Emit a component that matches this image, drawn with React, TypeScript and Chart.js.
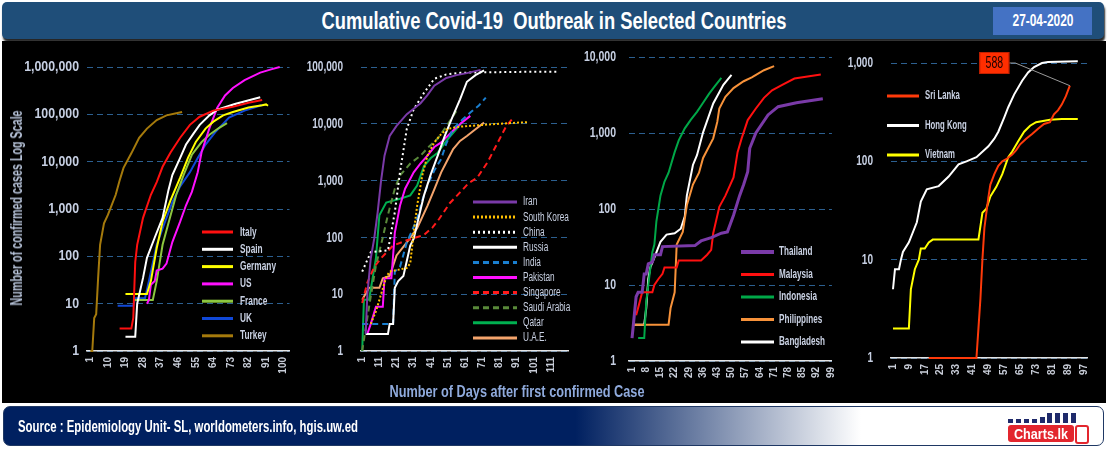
import React, { useEffect, useRef } from "react";
import { Chart, registerables } from "chart.js";
Chart.register(...registerables);

const FONT = "'Liberation Sans', Arial, 'DejaVu Sans', sans-serif";
const TICK_COLOR = "#c6cfe2";
const LEGEND_COLOR = "#c9d1e3";
const GRID_COLOR = "#2c5f8f";

// ---------- Tick labels ----------
const p1XTicks = [1, 10, 19, 28, 37, 46, 55, 64, 73, 82, 91, 100];
const p1YTicks = [1, 10, 100, 1000, 10000, 100000, 1000000];
const p2XTicks = [1, 11, 21, 31, 41, 51, 61, 71, 81, 91, 101, 111];
const p2YTicks = [1, 10, 100, 1000, 10000, 100000];
const p3XTicks = [1, 8, 15, 22, 29, 36, 43, 50, 57, 64, 71, 78, 85, 92, 99];
const p3YTicks = [1, 10, 100, 1000, 10000];
const p4XTicks = [1, 9, 17, 25, 33, 41, 49, 57, 65, 73, 81, 89, 97];
const p4YTicks = [1, 10, 100, 1000];

// ---------- Panel 1 series: [day, cumulative cases] ----------
const italy = [[16, 3], [22, 3], [23, 5], [24, 76], [25, 175], [28, 650], [32, 2000], [35, 3700], [38, 7800], [42, 15500], [47, 32000], [52, 60000], [57, 89000], [64, 120000], [74, 145000], [82, 175000], [89, 200000]];
const spain = [[19, 2], [24, 2], [25, 10], [28, 35], [30, 93], [34, 250], [38, 650], [41, 2500], [43, 5200], [47, 12000], [50, 23000], [54, 40000], [57, 60000], [62, 95000], [66, 125000], [75, 165000], [88, 230000]];
const germany = [[19, 16], [30, 16], [32, 30], [35, 150], [38, 540], [42, 1500], [47, 4600], [51, 12000], [55, 26000], [60, 50000], [64, 70000], [69, 95000], [74, 112000], [82, 140000], [89, 155000], [91, 162000], [92, 152000]];
const us = [[30, 10], [31, 12], [32, 25], [34, 30], [35, 50], [38, 55], [40, 70], [43, 200], [47, 540], [50, 1200], [53, 2300], [56, 6000], [58, 16000], [62, 51000], [66, 138000], [70, 250000], [74, 360000], [80, 530000], [88, 760000], [94, 900000], [98, 1000000]];
const france = [[23, 12], [33, 12], [35, 30], [38, 175], [41, 500], [45, 2000], [49, 5500], [53, 14000], [58, 26000], [62, 37000], [67, 52000], [71, 65000]];
const uk = [[15, 9], [23, 9], [24, 13], [29, 13], [31, 30], [35, 175], [39, 500], [43, 1400], [47, 3000], [52, 6000], [56, 12000], [60, 23000], [65, 42000], [72, 85000], [80, 120000], [89, 158000]];
const turkey = [[1, 1], [2, 1], [3, 5], [4, 6], [5, 35], [6, 175], [8, 500], [10, 750], [14, 2000], [16, 4000], [18, 7400], [22, 15000], [26, 32000], [30, 50000], [35, 76000], [40, 95000], [45, 105000], [48, 112000]];

// ---------- Panel 2 series ----------
const iran = [[3, 2], [4, 10], [6, 43], [8, 95], [10, 277], [12, 1000], [14, 2750], [17, 6100], [21, 9200], [27, 14800], [35, 23000], [39, 32000], [43, 47000], [50, 64000], [56, 72000], [62, 78000], [70, 89000]];
const southKorea = [[6, 3], [9, 5], [12, 10], [15, 20], [17, 25], [27, 29], [29, 35], [31, 120], [33, 360], [36, 1230], [39, 2750], [43, 4700], [47, 6600], [51, 8200], [58, 8900], [74, 9700], [97, 10700]];
const china = [[1, 25], [6, 55], [16, 59], [20, 277], [23, 1400], [27, 8200], [31, 18000], [37, 35000], [43, 62000], [50, 74000], [58, 79000], [70, 80500], [100, 82500], [115, 82800]];
const russia = [[3, 2], [16, 2], [17, 3], [19, 3], [20, 13], [22, 17], [25, 21], [29, 72], [31, 95], [37, 550], [41, 1300], [45, 2750], [49, 6000], [53, 12000], [58, 27000], [62, 55000], [67, 72000], [72, 87000]];
const india = [[1, 3], [19, 3], [20, 25], [23, 30], [27, 82], [30, 130], [33, 215], [36, 450], [39, 820], [43, 1500], [47, 2400], [50, 4500], [54, 8200], [59, 11500], [64, 15800], [69, 21000], [73, 29000]];
const pakistan = [[4, 2], [6, 3], [9, 6], [13, 6], [14, 19], [18, 19], [20, 120], [23, 360], [26, 720], [31, 1400], [35, 2000], [39, 2750], [43, 3900], [47, 4700], [54, 7600], [59, 10500], [64, 13800]];
const singapore = [[1, 7], [4, 16], [8, 30], [12, 43], [19, 72], [27, 89], [37, 110], [42, 150], [46, 215], [52, 400], [58, 620], [63, 900], [68, 1120], [74, 2100], [80, 4700], [85, 9200], [89, 12700]];
const saudiArabia = [[1, 1], [5, 6], [9, 32], [13, 100], [16, 250], [20, 720], [23, 1230], [29, 2000], [35, 2750], [40, 4000], [45, 5500], [51, 10000], [57, 19000]];
const qatar = [[1, 1], [2, 8], [5, 8], [9, 43], [11, 245], [15, 410], [23, 480], [29, 550], [33, 820], [37, 1800], [41, 2500], [45, 3100], [50, 5000], [55, 7500], [59, 10500]];
const uae = [[1, 8], [5, 13], [11, 13], [13, 19], [17, 21], [21, 48], [27, 82], [33, 145], [39, 360], [43, 700], [47, 1400], [51, 2400], [54, 3600], [58, 5000], [62, 6100], [67, 8000], [72, 10500]];

// ---------- Panel 3 series ----------
const thailand = [[1, 2], [3, 7], [4, 8], [6, 8], [7, 14], [8, 14], [9, 19], [11, 20], [12, 25], [15, 25], [16, 32], [32, 33], [35, 38], [40, 42], [45, 48], [48, 50], [51, 83], [54, 150], [56, 210], [58, 310], [59, 630], [62, 1000], [68, 1730], [73, 2220], [82, 2500], [95, 2820]];
const malaysia = [[3, 4], [4, 5], [6, 8], [11, 8], [12, 10], [14, 12], [16, 14], [17, 17], [23, 17], [24, 21], [35, 21], [38, 25], [40, 29], [41, 48], [44, 107], [47, 150], [51, 260], [53, 560], [55, 850], [58, 1480], [62, 2100], [66, 2900], [70, 3650], [75, 4300], [81, 5200], [94, 5900]];
const indonesia = [[4, 2], [7, 2], [8, 6], [9, 10], [11, 27], [12, 34], [13, 69], [15, 150], [17, 230], [19, 300], [22, 560], [24, 800], [27, 1150], [30, 1500], [33, 1900], [36, 2500], [39, 3300], [42, 4200], [45, 5300]];
const philippines = [[1, 3], [19, 3], [20, 5], [22, 8], [23, 34], [26, 50], [28, 112], [31, 210], [34, 300], [36, 470], [41, 850], [43, 1400], [44, 2100], [47, 3000], [51, 3900], [56, 4800], [60, 5400], [66, 6700], [71, 7600]];
const bangladesh = [[1, 3], [7, 3], [8, 5], [9, 12], [10, 17], [12, 23], [15, 37], [18, 46], [22, 48], [25, 55], [27, 80], [28, 150], [31, 380], [33, 510], [36, 1020], [41, 2450], [46, 4300], [50, 5800]];

// ---------- Panel 4 series ----------
const sriLanka = [[19, 1], [43, 1], [44, 2], [45, 4], [46, 10], [47, 21], [49, 43], [50, 58], [52, 74], [54, 90], [56, 100], [58, 105], [61, 117], [63, 130], [65, 149], [68, 170], [71, 190], [74, 215], [77, 240], [80, 250], [82, 300], [84, 330], [86, 380], [88, 460], [90, 588]];
const hongKong = [[1, 5], [2, 8], [4, 8], [5, 10], [6, 12], [9, 15], [13, 24], [15, 39], [18, 52], [24, 56], [29, 70], [34, 93], [38, 100], [43, 110], [49, 142], [52, 170], [54, 200], [57, 280], [59, 355], [62, 480], [66, 660], [69, 800], [72, 910], [76, 1000], [79, 1025], [94, 1040]];
const vietnam = [[1, 2], [9, 2], [10, 5], [12, 8], [14, 10], [15, 13], [17, 13], [19, 15], [21, 16], [44, 16], [46, 30], [48, 33], [50, 44], [53, 55], [56, 74], [59, 110], [61, 126], [64, 160], [67, 200], [70, 230], [73, 250], [80, 265], [86, 270], [94, 270]];

// callout anchor (data units) for the Sri Lanka label
const calloutDay = 52;
const calloutCases = 1000;

type S = { label: string; pts: number[][]; color: string; w: number; dash?: number[] };

const panel1: S[] = [
  { label: "Italy", pts: italy, color: "#ff1010", w: 2 },
  { label: "Spain", pts: spain, color: "#ffffff", w: 2 },
  { label: "Germany", pts: germany, color: "#ffff00", w: 2 },
  { label: "US", pts: us, color: "#ff10ff", w: 2 },
  { label: "France", pts: france, color: "#8cc63f", w: 2 },
  { label: "UK", pts: uk, color: "#1048d8", w: 2 },
  { label: "Turkey", pts: turkey, color: "#a57a0c", w: 2 },
];
const panel2: S[] = [
  { label: "Iran", pts: iran, color: "#7a3aa8", w: 2 },
  { label: "South Korea", pts: southKorea, color: "#ffc000", w: 2, dash: [2, 2] },
  { label: "China", pts: china, color: "#ffffff", w: 2, dash: [2, 3] },
  { label: "Russia", pts: russia, color: "#ffffff", w: 2 },
  { label: "India", pts: india, color: "#1a7fd0", w: 2, dash: [6, 4] },
  { label: "Pakistan", pts: pakistan, color: "#ff10ff", w: 2 },
  { label: "Singapore", pts: singapore, color: "#ff1a1a", w: 2, dash: [6, 4] },
  { label: "Saudi Arabia", pts: saudiArabia, color: "#5a8a3a", w: 2, dash: [6, 4] },
  { label: "Qatar", pts: qatar, color: "#00b050", w: 2 },
  { label: "U.A.E.", pts: uae, color: "#f4a46c", w: 2 },
];
const panel3: S[] = [
  { label: "Thailand", pts: thailand, color: "#7a3aa8", w: 3 },
  { label: "Malaysia", pts: malaysia, color: "#ff1010", w: 2 },
  { label: "Indonesia", pts: indonesia, color: "#00a848", w: 2 },
  { label: "Philippines", pts: philippines, color: "#f7923a", w: 2 },
  { label: "Bangladesh", pts: bangladesh, color: "#ffffff", w: 2 },
];
const panel4: S[] = [
  { label: "Sri Lanka", pts: sriLanka, color: "#ff3a0a", w: 2 },
  { label: "Hong Kong", pts: hongKong, color: "#ffffff", w: 2 },
  { label: "Vietnam", pts: vietnam, color: "#ffff00", w: 2 },
];

function narrowText(ctx: any, text: string, x: number, y: number, sx: number, align: string) {
  ctx.save();
  ctx.translate(x, y);
  ctx.scale(sx, 1);
  ctx.textAlign = align;
  ctx.fillText(text, 0, 0);
  ctx.restore();
}

const fmt = (v: number) => Number(v).toLocaleString("en-US");

const sideLegend = {
  id: "sideLegend",
  afterDatasetsDraw(chart: any, _a: any, o: any) {
    if (!o || o.x == null) return;
    const ctx = chart.ctx;
    ctx.save();
    chart.data.datasets.forEach((ds: any, i: number) => {
      const y = o.y0 + i * o.dy;
      ctx.beginPath();
      ctx.setLineDash(ds.borderDash || []);
      ctx.strokeStyle = ds.borderColor;
      ctx.lineWidth = ds.borderWidth + 1;
      ctx.moveTo(o.x, y);
      ctx.lineTo(o.x + o.len, y);
      ctx.stroke();
      ctx.setLineDash([]);
      ctx.fillStyle = LEGEND_COLOR;
      ctx.font = `${o.weight} ${o.size}px ${FONT}`;
      ctx.textBaseline = "middle";
      narrowText(ctx, ds.label, o.textX, y, o.sx, "left");
    });
    ctx.restore();
  },
};

const narrowY = {
  id: "narrowY",
  afterDraw(chart: any, _a: any, o: any) {
    if (!o || o.size == null) return;
    const s = chart.scales.y;
    const ctx = chart.ctx;
    ctx.save();
    ctx.fillStyle = TICK_COLOR;
    ctx.font = `bold ${o.size}px ${FONT}`;
    ctx.textBaseline = "middle";
    s.ticks.forEach((t: any) => {
      const y = s.getPixelForValue(t.value);
      narrowText(ctx, fmt(t.value), s.right - o.pad, y, o.sx, "right");
    });
    ctx.restore();
  },
};

const callout = {
  id: "callout",
  afterDatasetsDraw(chart: any, _a: any, o: any) {
    if (!o || o.boxX == null) return;
    const ctx = chart.ctx;
    const xs = chart.scales.x, ys = chart.scales.y;
    const pts = chart.data.datasets[o.dataset].data;
    const last = pts[pts.length - 1];
    const bx = xs.getPixelForValue(o.boxX), by = ys.getPixelForValue(o.boxY);
    const tx = xs.getPixelForValue(last.x), ty = ys.getPixelForValue(last.y);
    const w = 30, h = 22;
    ctx.save();
    ctx.strokeStyle = "#9a9a9a";
    ctx.lineWidth = 1;
    ctx.beginPath();
    ctx.moveTo(bx + w / 2, by);
    ctx.lineTo(bx + w / 2 + 6, by);
    ctx.lineTo(tx, ty);
    ctx.stroke();
    ctx.fillStyle = "#ff2e00";
    ctx.fillRect(bx - w / 2, by - h / 2, w, h);
    ctx.strokeStyle = "#c02000";
    ctx.strokeRect(bx - w / 2 + 0.5, by - h / 2 + 0.5, w - 1, h - 1);
    ctx.fillStyle = "#1a0000";
    ctx.font = `16px ${FONT}`;
    ctx.textBaseline = "middle";
    narrowText(ctx, String(last.y), bx, by + 1, 0.66, "center");
    ctx.restore();
  },
};

type P = {
  series: S[]; xTicks: number[]; yTicks: number[];
  left: number; top: number; w: number; h: number;
  yAxisW: number; padTop: number; xMin: number; xMax: number; yMax: number;
  yLab: any; legend: any; callout?: any;
};

const PANELS: P[] = [
  { series: panel1, xTicks: p1XTicks, yTicks: p1YTicks, left: 0, top: 45, w: 302, h: 346, yAxisW: 87, padTop: 22,
    xMin: -0.7, xMax: 103, yMax: 1000000, yLab: { size: 14, sx: 0.88, pad: 8 },
    legend: { x: 202, len: 31, textX: 240, y0: 187, dy: 17.3, size: 13, weight: "bold", sx: 0.64 } },
  { series: panel2, xTicks: p2XTicks, yTicks: p2YTicks, left: 295, top: 45, w: 285, h: 346, yAxisW: 66, padTop: 22,
    xMin: 0.3, xMax: 120.9, yMax: 100000, yLab: { size: 15, sx: 0.67, pad: 18 },
    legend: { x: 178, len: 44, textX: 228, y0: 157, dy: 15.1, size: 12.5, weight: "normal", sx: 0.66 } },
  { series: panel3, xTicks: p3XTicks, yTicks: p3YTicks, left: 570, top: 45, w: 279, h: 356, yAxisW: 59, padTop: 12,
    xMin: -0.5, xMax: 99.5, yMax: 10000, yLab: { size: 15, sx: 0.7, pad: 13 },
    legend: { x: 171, len: 33, textX: 209, y0: 207, dy: 22.5, size: 12.5, weight: "bold", sx: 0.65 } },
  { series: panel4, xTicks: p4XTicks, yTicks: p4YTicks, left: 845, top: 45, w: 257, h: 353, yAxisW: 46, padTop: 18,
    xMin: 0, xMax: 99, yMax: 1000, yLab: { size: 15, sx: 0.67, pad: 18 },
    legend: { x: 42, len: 32, textX: 80, y0: 51, dy: 29.5, size: 12.5, weight: "bold", sx: 0.62 },
    callout: { dataset: 0, boxX: calloutDay, boxY: calloutCases } },
];

function makeConfig(p: P): any {
  return {
    type: "line",
    data: {
      datasets: p.series.map((s) => ({
        label: s.label,
        data: s.pts.map(([x, y]) => ({ x, y })),
        borderColor: s.color,
        backgroundColor: s.color,
        borderWidth: s.w,
        borderDash: s.dash || [],
        pointRadius: 0,
        tension: 0,
        fill: false,
        clip: 4,
      })),
    },
    options: {
      responsive: false,
      animation: false,
      devicePixelRatio: 1,
      events: [],
      layout: { padding: { top: p.padTop, right: 12, left: 0, bottom: 0 } },
      plugins: {
        legend: { display: false },
        tooltip: { enabled: false },
        sideLegend: p.legend,
        narrowY: p.yLab,
        callout: p.callout || {},
      },
      scales: {
        x: {
          type: "linear",
          min: p.xMin,
          max: p.xMax,
          grid: { display: false, drawTicks: false },
          border: { display: true, color: "#e4e4e4", width: 1.5 },
          ticks: {
            autoSkip: false, minRotation: 90, maxRotation: 90, padding: 6,
            color: "#c8cdd8", font: { family: FONT, size: 10, weight: "bold" },
            callback: (v: any) => String(v),
          },
          afterBuildTicks: (s: any) => { s.ticks = p.xTicks.map((v) => ({ value: v })); },
          afterFit: (s: any) => { s.height = 40; },
        },
        y: {
          type: "logarithmic",
          min: 1,
          max: p.yMax,
          grid: { color: GRID_COLOR, drawTicks: false, lineWidth: 1 },
          border: { display: false, dash: [6, 4] },
          ticks: { display: false },
          afterBuildTicks: (s: any) => { s.ticks = p.yTicks.map((v) => ({ value: v })); },
          afterFit: (s: any) => { s.width = p.yAxisW; },
        },
      },
    },
    plugins: [sideLegend, narrowY, callout],
  };
}

let measureCtx: any = null;
function textWidth(text: string, font: string) {
  if (!measureCtx) measureCtx = document.createElement("canvas").getContext("2d");
  measureCtx.font = font;
  return measureCtx.measureText(text).width || 1;
}

function FitText(props: { text: string; size: number; weight?: string; color: string; cx: number; cy: number; width: number; rotate?: boolean; align?: "center" | "left"; pre?: boolean }) {
  const weight = props.weight || "bold";
  const sx = props.width / textWidth(props.text, `${weight} ${props.size}px ${FONT}`);
  const boxW = 1000;
  const left = props.align === "left" ? props.cx : props.cx - boxW / 2;
  return (
    <div style={{
      position: "absolute", left, top: props.cy - props.size, width: boxW, height: props.size * 2,
      lineHeight: `${props.size * 2}px`, textAlign: props.align === "left" ? "left" : "center",
      color: props.color, fontWeight: weight as any, fontSize: props.size, fontFamily: FONT,
      whiteSpace: props.pre ? "pre" : "nowrap",
      transform: `${props.rotate ? "rotate(-90deg) " : ""}scaleX(${sx})`,
      transformOrigin: props.align === "left" ? "0 50%" : "50% 50%",
    }}>{props.text}</div>
  );
}

export default function App() {
  const refs = [useRef<HTMLCanvasElement>(null), useRef<HTMLCanvasElement>(null), useRef<HTMLCanvasElement>(null), useRef<HTMLCanvasElement>(null)];
  useEffect(() => {
    const charts = PANELS.map((p, i) => new Chart(refs[i].current as HTMLCanvasElement, makeConfig(p)));
    return () => charts.forEach((c) => c.destroy());
  }, []);

  const bars = [4, 4, 4, 4, 6, 10, 10, 10, 10];

  return (
    <div style={{ position: "fixed", left: 0, top: 0, width: 1108, height: 450, background: "#ffffff", overflow: "hidden", fontFamily: FONT }}>
      {/* title bar */}
      <div style={{ position: "absolute", left: 2, top: 2, width: 1102, height: 37, background: "#1f4e79", borderRadius: 5, boxShadow: "1px 3px 2px rgba(0,0,0,0.85)" }} />
      <FitText text={"Cumulative Covid-19  Outbreak in Selected Countries"} size={23} color="#ffffff" cx={554} cy={21} width={465} pre />
      <div style={{ position: "absolute", left: 993, top: 7, width: 99, height: 28, background: "#4472c4" }} />
      <FitText text="27-04-2020" size={17} color="#ffffff" cx={1043} cy={21} width={61} />
      {/* black chart area */}
      <div style={{ position: "absolute", left: 2, top: 41, width: 1104, height: 362, background: "#000000" }} />
      {PANELS.map((p, i) => (
        <canvas key={i} ref={refs[i]} width={p.w} height={p.h} style={{ position: "absolute", left: p.left, top: p.top, width: p.w, height: p.h }} />
      ))}
      {/* axis titles */}
      <FitText text="Number of confirmed cases Log Scale" size={16} color="#b7c3d9" cx={17} cy={208} width={195} rotate />
      <FitText text="Number of Days after first confirmed Case" size={17} color="#8faadc" cx={517} cy={392} width={255} />
      {/* footer */}
      <div style={{ position: "absolute", left: 3, top: 406, width: 1099, height: 38, borderRadius: 7, border: "1.5px solid #1f3864", background: "linear-gradient(90deg, #002060 0%, #002060 52%, #ffffff 78%, #ffffff 100%)" }} />
      <FitText text="Source : Epidemiology Unit- SL, worldometers.info, hgis.uw.ed" size={16} color="#ffffff" cx={18} cy={427} width={340} align="left" />
      {/* logo */}
      <div style={{ position: "absolute", left: 1008, top: 412, width: 68, height: 11, display: "flex", alignItems: "flex-end", justifyContent: "space-between" }}>
        {bars.map((b, i) => (
          <div key={i} style={{ width: 5, height: b, background: "#1f2a6b" }} />
        ))}
      </div>
      <div style={{ position: "absolute", left: 1008, top: 425, width: 66, height: 17, background: "#e3262e", borderRadius: 3 }} />
      <FitText text="Charts.lk" size={15} color="#ffffff" cx={1041} cy={434} width={54} />
      <div style={{ position: "absolute", left: 1075, top: 425, width: 10, height: 15, background: "#ffffff", border: "2px solid #e3262e", borderRadius: 3 }} />
    </div>
  );
}
